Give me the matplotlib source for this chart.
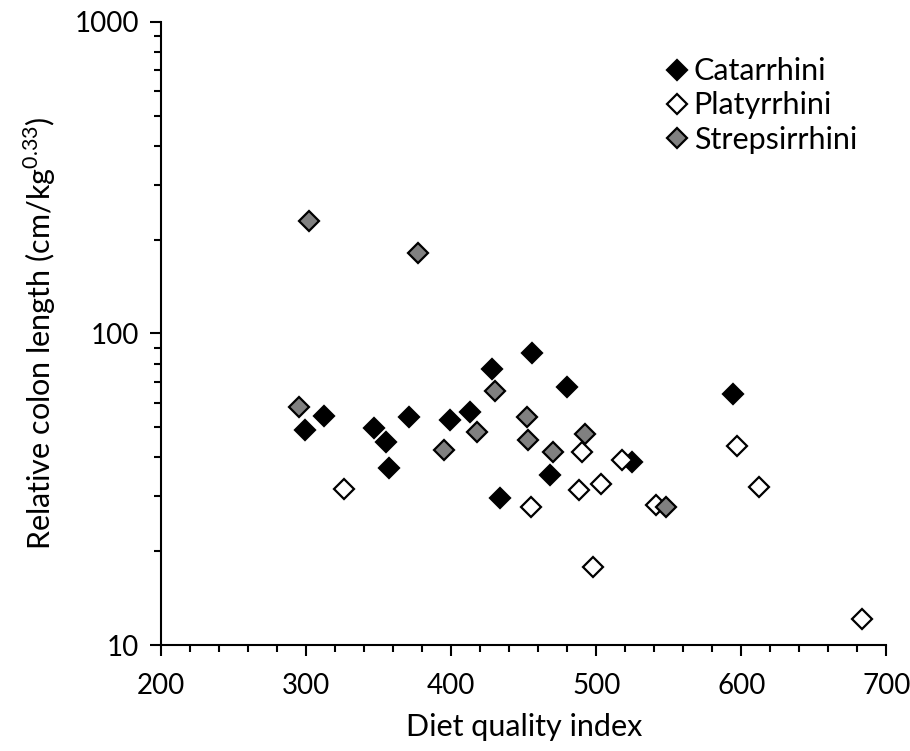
import numpy as np
import matplotlib
matplotlib.use('Agg')
import matplotlib.pyplot as plt
from matplotlib.ticker import MultipleLocator, LogLocator, FixedLocator, NullFormatter

plt.rcParams['font.family'] = ['Lato', 'DejaVu Sans']
plt.rcParams['mathtext.fontset'] = 'custom'
plt.rcParams['mathtext.rm'] = 'Lato'

# Catarrhini (black)
cat_x = [299, 312, 347, 355, 357, 371, 399, 413, 428, 434, 456, 468, 480, 525, 594]
cat_y = [49.0, 54.5, 49.6, 44.7, 36.9, 53.8, 52.8, 55.8, 76.8, 29.6, 86.8, 35.1, 67.2, 38.7, 63.9]

# Platyrrhini (white)
pla_x = [326, 455, 488, 490, 503, 498, 518, 541, 597, 612, 683]
pla_y = [31.7, 27.8, 31.5, 41.7, 32.9, 17.8, 39.3, 28.2, 43.6, 32.2, 12.1]

# Strepsirrhini (gray)
str_x = [295, 302, 377, 395, 418, 430, 452, 453, 470, 492, 548]
str_y = [58.0, 230, 181, 42.3, 48.3, 65.5, 53.8, 45.5, 41.7, 47.6, 27.8]

groups = [
    ('Catarrhini', cat_x, cat_y, 'black'),
    ('Platyrrhini', pla_x, pla_y, 'white'),
    ('Strepsirrhini', str_x, str_y, '#808080'),
]

fig = plt.figure(figsize=(9.1, 7.51), dpi=100, facecolor='white')
ax = fig.add_axes([0.177, 0.141, 0.797, 0.830])

for name, xs, ys, fc in groups:
    ax.plot(xs, ys, 'D', markersize=10, markerfacecolor=fc, markeredgecolor='black',
            markeredgewidth=1.6, linestyle='none', label=name)

ax.set_yscale('log')
ax.set_xlim(200, 700)
ax.set_ylim(10, 1000)
ax.xaxis.set_major_locator(MultipleLocator(100))
ax.xaxis.set_minor_locator(MultipleLocator(20))
ax.yaxis.set_major_locator(FixedLocator([10, 100, 1000]))
ax.yaxis.set_major_formatter(matplotlib.ticker.FuncFormatter(lambda v, p: f'{v:.0f}'))
ax.yaxis.set_minor_locator(LogLocator(base=10, subs=np.arange(2, 10)))
ax.yaxis.set_minor_formatter(NullFormatter())

for s in ['top', 'right']:
    ax.spines[s].set_visible(False)
for s in ['left', 'bottom']:
    ax.spines[s].set_linewidth(1.5)

ax.tick_params(which='major', length=8, width=1.5, labelsize=20, direction='out', pad=8)
ax.tick_params(axis='x', which='major', pad=12)
ax.tick_params(which='minor', length=5, width=1.5, direction='out')

ax.set_xlabel('Diet quality index', fontsize=22, labelpad=10)
ax.set_ylabel(r'Relative colon length (cm/kg$^{0.33}$)', fontsize=22, labelpad=12)

ax.legend(loc='upper left', bbox_to_anchor=(0.69, 0.943), frameon=False, fontsize=22,
          handletextpad=0.05, labelspacing=0.2, borderaxespad=0, borderpad=0,
          handlelength=1.0)

plt.savefig('out.png', dpi=100, facecolor='white')
